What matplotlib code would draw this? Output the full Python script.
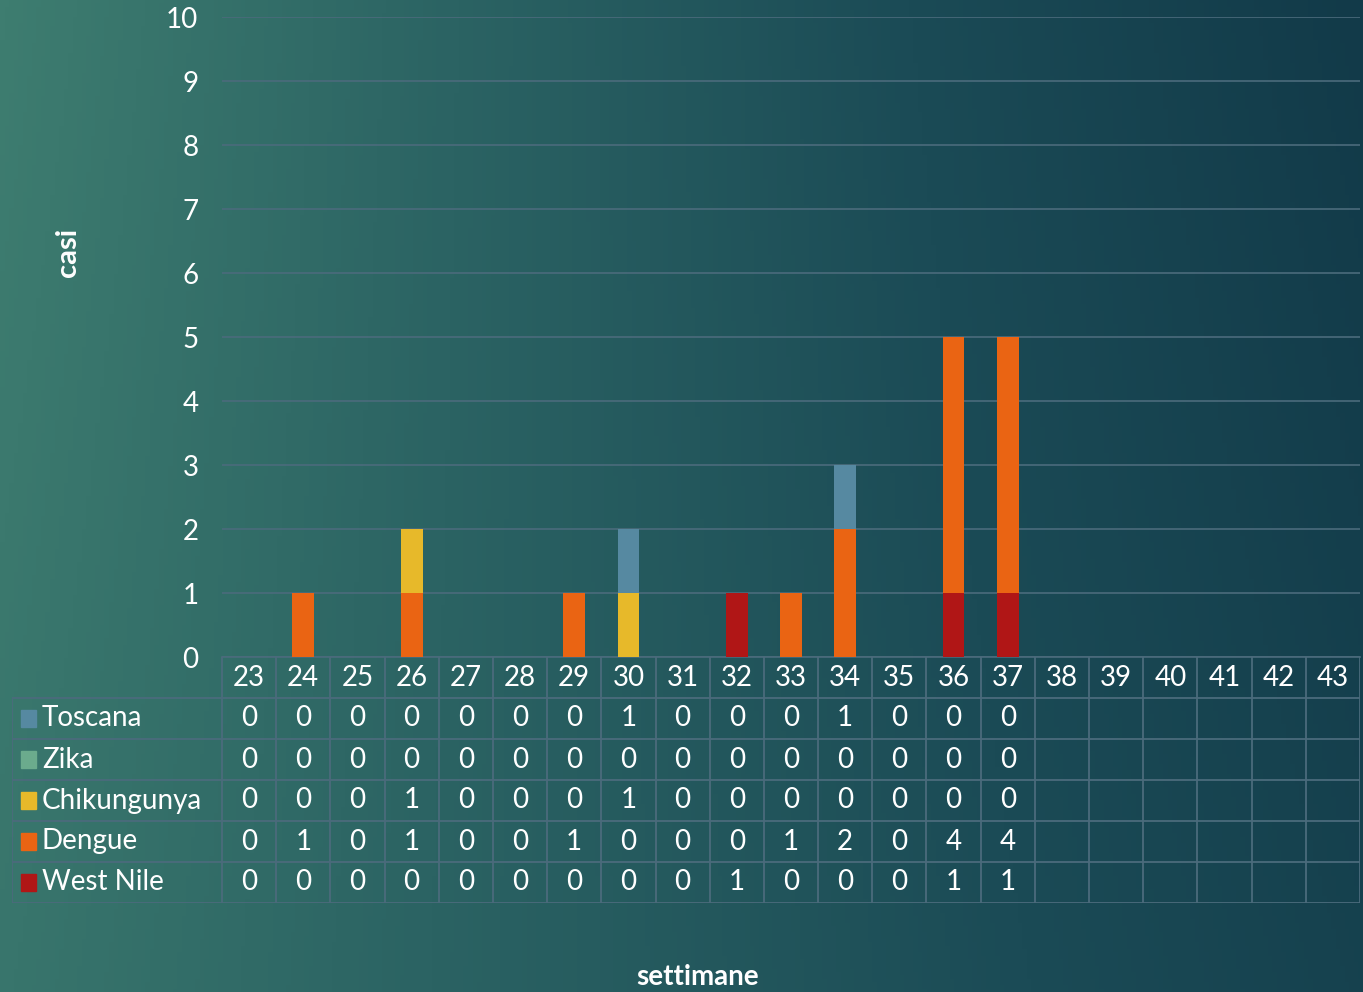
import numpy as np
import matplotlib.pyplot as plt
from matplotlib.colors import LinearSegmentedColormap

plt.rcParams['font.family'] = ['Lato', 'DejaVu Sans']

weeks = [str(w) for w in range(23, 44)]
series = ['Toscana', 'Zika', 'Chikungunya', 'Dengue', 'West Nile']
toscana = [0, 0, 0, 0, 0, 0, 0, 1, 0, 0, 0, 1, 0, 0, 0]
zika = [0, 0, 0, 0, 0, 0, 0, 0, 0, 0, 0, 0, 0, 0, 0]
chikungunya = [0, 0, 0, 1, 0, 0, 0, 1, 0, 0, 0, 0, 0, 0, 0]
dengue = [0, 1, 0, 1, 0, 0, 1, 0, 0, 0, 1, 2, 0, 4, 4]
west_nile = [0, 0, 0, 0, 0, 0, 0, 0, 0, 1, 0, 0, 0, 1, 1]
colors = ['#5689a1', '#6bab8d', '#e7b92a', '#ea6413', '#b01616']

values = [toscana, zika, chikungunya, dengue, west_nile]
W, H = 1363, 992
fig = plt.figure(figsize=(W / 100, H / 100), dpi=100)

# Background gradient
bg = fig.add_axes([0, 0, 1, 1], zorder=-10)
xx, yy = np.meshgrid(np.linspace(0, 1, 300), np.linspace(0, 1, 300))
t = np.clip(0.75 * xx + 0.25 * (1 - yy) * xx + 0.1 * yy, 0, 1)
cmap = LinearSegmentedColormap.from_list('bg', ['#3e7d70', '#2b6363', '#1b4b56', '#123a49'])
bg.imshow(t, cmap=cmap, aspect='auto', extent=[0, 1, 0, 1], origin='upper')
bg.axis('off')

grid_col = '#4b6b7c'
n = len(weeks)
x = np.arange(n)
fs = 20

# Main chart
ax = fig.add_axes([222 / W, (H - 657) / H, 1138 / W, 640 / H])
ax.patch.set_alpha(0)
bottom = np.zeros(len(west_nile))
for name, vals, col in list(zip(series, values, colors))[::-1]:
    v = np.array(vals)
    ax.bar(x[:len(v)], v, 0.4, bottom=bottom, color=col, zorder=3)
    bottom += v
ax.set_xlim(-0.5, n - 0.5)
ax.set_ylim(0, 10)
ax.set_yticks(range(0, 11))
ax.yaxis.grid(True, color=grid_col, lw=1.2)
ax.set_axisbelow(True)
for s in ['top', 'right', 'left']:
    ax.spines[s].set_visible(False)
ax.spines['bottom'].set_color(grid_col)
ax.spines['bottom'].set_linewidth(1.2)
ax.set_xticks([])
ax.tick_params(axis='y', length=0, pad=17, labelsize=fs, labelcolor='white')

# Data table
ux = 1138 / n
left_ext = -0.5 - (222 - 12) / ux
tb = fig.add_axes([12 / W, (H - 903) / H, (1360 - 12) / W, (903 - 657) / H])
tb.set_xlim(left_ext, n - 0.5)
tb.set_ylim(6, 0)
tb.axis('off')
tb.patch.set_alpha(0)
lw = 1.3
for i in range(n + 1):
    tb.plot([i - 0.5, i - 0.5], [0, 6], color=grid_col, lw=lw)
tb.plot([left_ext, left_ext], [1, 6], color=grid_col, lw=lw)
for r in range(1, 7):
    tb.plot([left_ext, n - 0.5], [r, r], color=grid_col, lw=lw)
for i, w in enumerate(weeks):
    tb.text(i, 0.5, w, ha='center', va='center', color='white', fontsize=fs)
for r, (name, vals, col) in enumerate(zip(series, values, colors)):
    yc = r + 1.5
    tb.add_patch(plt.Rectangle((left_ext + 0.17, yc - 0.2), 0.27, 0.4, color=col))
    tb.text(left_ext + 0.55, yc, name, ha='left', va='center', color='white', fontsize=fs)
    for i, v in enumerate(vals):
        tb.text(i, yc, str(v), ha='center', va='center', color='white', fontsize=fs)

fig.text(68 / W, 1 - 252 / H, 'casi', rotation=90, ha='center', va='center',
         color='white', fontsize=21, fontweight='bold')
fig.text(698 / W, 1 - 977 / H, 'settimane', ha='center', va='center',
         color='white', fontsize=20, fontweight='bold')

fig.savefig('out.png', dpi=100)
